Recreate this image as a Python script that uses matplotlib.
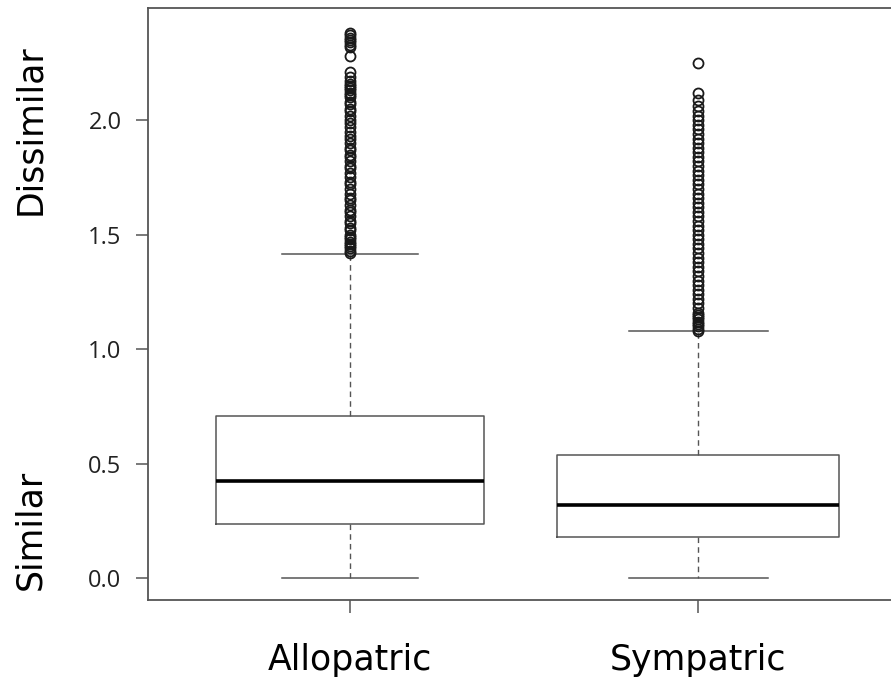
import matplotlib
matplotlib.use("Agg")
import matplotlib.pyplot as plt

# groups and box summary values
groups = ["Allopatric", "Sympatric"]
q1 = [0.236, 0.179]
med = [0.424, 0.319]
q3 = [0.707, 0.537]
whislo = [0.0, 0.0]
whishi = [1.415, 1.079]

allo_out = [2.38, 2.37, 2.36, 2.35, 2.34, 2.33, 2.32, 2.28, 2.21, 2.19, 2.17,
            2.16, 2.15, 2.14, 2.13, 2.12, 2.11, 2.10, 2.08, 2.07, 2.05, 2.04,
            2.02, 2.00, 1.99, 1.97, 1.95, 1.93, 1.92, 1.90, 1.88, 1.87, 1.85,
            1.84, 1.82, 1.80, 1.79, 1.77, 1.75, 1.73, 1.72, 1.70, 1.68, 1.66,
            1.65, 1.63, 1.61, 1.60, 1.58, 1.56, 1.55, 1.53, 1.52, 1.50, 1.49,
            1.48, 1.47, 1.46, 1.45, 1.44, 1.43, 1.42]
symp_out = [2.25, 2.12, 2.09, 2.06, 2.04, 2.02, 2.00, 1.98, 1.96, 1.94, 1.92,
            1.90, 1.88, 1.86, 1.84, 1.82, 1.80, 1.78, 1.76, 1.74, 1.72, 1.70,
            1.68, 1.66, 1.64, 1.62, 1.60, 1.58, 1.56, 1.54, 1.52, 1.50, 1.48,
            1.46, 1.44, 1.42, 1.40, 1.38, 1.36, 1.34, 1.32, 1.30, 1.28, 1.26,
            1.24, 1.22, 1.20, 1.18, 1.16, 1.15, 1.14, 1.13, 1.12, 1.11, 1.10,
            1.09, 1.08]
outliers = [allo_out, symp_out]

yticks = [0.0, 0.5, 1.0, 1.5, 2.0]

stats = []
for i in range(len(groups)):
    stats.append({
        "q1": q1[i], "med": med[i], "q3": q3[i],
        "whislo": whislo[i], "whishi": whishi[i],
        "fliers": outliers[i], "label": groups[i],
    })

fig = plt.figure(figsize=(8.91, 6.86), dpi=100)
ax = fig.add_axes([0.166, 0.125, 0.84, 0.863])

line_col = "#555555"
ax.bxp(stats, positions=[1, 2], widths=[0.77, 0.81], capwidths=[0.39, 0.40],
       showfliers=True,
       boxprops=dict(color=line_col, linewidth=1.1),
       medianprops=dict(color="black", linewidth=2.6),
       whiskerprops=dict(color=line_col, linewidth=1.0, linestyle=(0, (4, 3))),
       capprops=dict(color=line_col, linewidth=1.1),
       flierprops=dict(marker="o", markersize=7.2, markerfacecolor="none",
                       markeredgecolor="#1a1a1a", markeredgewidth=1.3))

ax.set_xlim(0.42, 2.569)
ax.set_ylim(-0.096, 2.489)

ax.set_yticks(yticks)
ax.set_yticklabels([f"{v:.1f}" for v in yticks], fontfamily="Open Sans",
                   fontsize=17, color="#222222")
ax.set_xticks([1, 2])
ax.set_xticklabels(["", ""])
ax.tick_params(axis="both", direction="out", length=9, width=1.1,
               color=line_col, pad=10)

for side in ["left", "top", "bottom"]:
    ax.spines[side].set_color(line_col)
    ax.spines[side].set_linewidth(1.3)
ax.spines["right"].set_visible(False)

# category names under the axis
for i, g in enumerate(groups):
    ax.text(i + 1, -0.4, g, ha="center", va="baseline", fontsize=25,
            fontfamily="DejaVu Sans", color="black")

# side labels
fig.text(30 / 891, 1 - 130 / 686, "Dissimilar", rotation=90, ha="center",
         va="center", fontsize=25, fontfamily="DejaVu Sans")
fig.text(30 / 891, 1 - 530 / 686, "Similar", rotation=90, ha="center",
         va="center", fontsize=25, fontfamily="DejaVu Sans")

fig.savefig("out.png", dpi=100)
